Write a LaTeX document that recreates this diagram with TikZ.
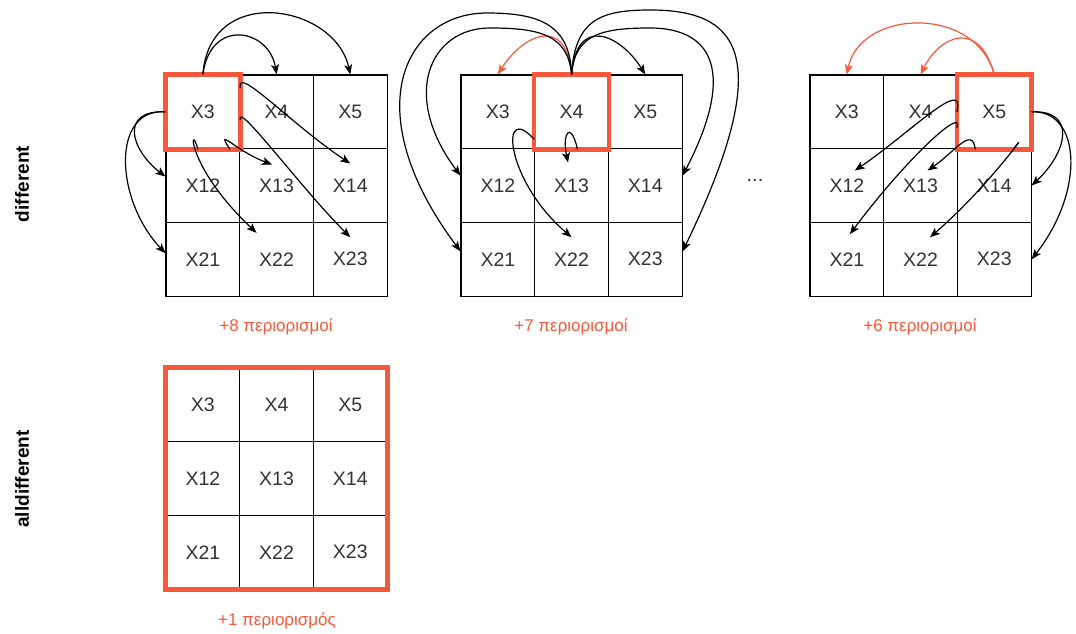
\documentclass[tikz,border=0pt]{standalone}
\usepackage{fontspec}
\setmainfont{Liberation Sans}
\usetikzlibrary{arrows.meta}
\definecolor{hl}{RGB}{245,88,58}
\definecolor{txt}{RGB}{51,51,51}
\begin{document}
\begin{tikzpicture}[x=1pt,y=-1pt,
  cell/.style={draw=black, line width=1.1pt, minimum width=73.7pt, minimum height=73.7pt, inner sep=0pt, text=txt, font=\fontsize{19.5}{22}\selectfont},
  focus/.style={draw=hl, line width=4.5pt},
  arr/.style={-{Stealth[length=10pt,width=8pt,inset=2.5pt]}, line width=1.2pt, draw=black},
  rarr/.style={arr, draw=hl},
  countlbl/.style={text=hl, font=\fontsize{17}{20}\selectfont},
  side/.style={rotate=90, font=\bfseries\fontsize{19}{22}\selectfont}]
\useasboundingbox (0,0) rectangle (1076,634);

\foreach \g/\gx/\gy in {A/166/75,B/461/75,C/810/75,D/166/368}{
  \foreach \lab [count=\i from 0] in {3,4,5,12,13,14,21,22,23}{
    \pgfmathtruncatemacro{\cc}{mod(\i,3)}
    \pgfmathtruncatemacro{\rr}{div(\i,3)}
    \node[cell] (\g\lab) at ({\gx+36.85+73.7*\cc},{\gy+36.85+73.7*\rr}) {X\lab};
  }
}

\draw[focus] (A3.north west) rectangle (A3.south east);
\draw[focus] (B4.north west) rectangle (B4.south east);
\draw[focus] (C5.north west) rectangle (C5.south east);
\draw[focus] (D3.north west) rectangle (D23.south east);

% grid A
\draw[arr] (A3.north) .. controls +(7,-92) and +(-15,-70) .. (A5.north);
\draw[arr] (A3.north) .. controls +(8,-58) and +(-7,-45) .. (A4.north);
\draw[arr] (A3.west) .. controls +(-46,-2) and +(-35,-27) .. ([shift={(0,-9)}]A12.west);
\draw[arr] (A3.west) .. controls +(-54,-4) and +(-51,-54) .. ([shift={(0,-6)}]A21.west);
\draw[arr] ([shift={(-5,0)}]A3.south) .. controls +(-8,-30) and +(-72,-68) .. ([shift={(-20,11)}]A22.north);
\draw[arr] ([shift={(27,0)}]A3.south) .. controls +(-15,-23.5) and +(-37,-14) .. ([shift={(-4.5,-21)}]A13.center);
\draw[arr] ([shift={(0,-24)}]A3.east) .. controls +(-4,-23) and +(-60,-40) .. ([shift={(0,-22)}]A14.center);
\draw[arr] ([shift={(0,8)}]A3.east) .. controls +(-4,-20) and +(-50,-50) .. ([shift={(0,-22)}]A23.center);

% grid B
\draw[rarr] (B4.north) .. controls +(-5,-60) and +(25,-40) .. (B3.north);
\draw[arr] (B4.north) .. controls +(5,-60) and +(-25,-40) .. (B5.north);
\draw[arr] (B4.north) .. controls (568,35) and (540,28) .. (490,28) .. controls (430,28) and (400,95) .. ([shift={(0,-10)}]B12.west);
\draw[arr] (B4.north) .. controls (570,25) and (540,13) .. (487,13) .. controls (405,13) and (355,110) .. ([shift={(0,-8)}]B21.west);
\draw[arr] (B4.north) .. controls (575,35) and (600,28) .. (650,28) .. controls (715,28) and (735,75) .. ([shift={(0,-10)}]B14.east);
\draw[arr] (B4.north) .. controls (575,20) and (600,10) .. (650,10) .. controls (735,10) and (780,50) .. ([shift={(0,-8)}]B23.east);
\draw[arr] ([shift={(0,-10)}]B4.south west) .. controls +(-35,-38.5) and +(-66.5,-57) .. ([shift={(0,-22)}]B22.center);
\draw[arr] ([shift={(6,0)}]B4.south) .. controls +(-7.5,-30.7) and +(-6,-27.5) .. ([shift={(-3.5,-23)}]B13.center);

% grid C
\draw[rarr] (C5.north) .. controls +(-15,-55) and +(20,-40) .. (C4.north);
\draw[rarr] (C5.north) .. controls +(-19,-70) and +(13,-65) .. (C3.north);
\draw[arr] (C5.east) .. controls +(44,-2) and +(37,-35) .. (C14.east);
\draw[arr] (C5.east) .. controls +(49,-2) and +(54,-69) .. (C23.east);
\draw[arr] (C5.west) .. controls +(9.6,-36.85) and +(55,-37.5) .. ([shift={(8,-15)}]C12.center);
\draw[arr] ([shift={(0,16)}]C5.west) .. controls +(7.6,-22.85) and +(55,-74) .. ([shift={(3,-25)}]C21.center);
\draw[arr] ([shift={(-19,0)}]C5.south) .. controls +(-3,-23.7) and +(27,-18.5) .. ([shift={(7,-15)}]C13.center);
\draw[arr] ([shift={(19,0)}]C5.south) .. controls +(21.75,-28.7) and +(60,-52) .. ([shift={(9.5,-22)}]C22.center);

\node[font=\fontsize{20}{22}\selectfont, text=txt] (dots) at (755,180) {...};

\node[countlbl] (la) at (276,327) {+8 περιορισμοί};
\node[countlbl] (lb) at (571,327) {+7 περιορισμοί};
\node[countlbl] (lc) at (920,327) {+6 περιορισμοί};
\node[countlbl] (ld) at (277,621) {+1 περιορισμός};
\node[side] (sa) at (22,184) {different};
\node[side] (sb) at (22,479) {alldifferent};
\end{tikzpicture}
\end{document}
